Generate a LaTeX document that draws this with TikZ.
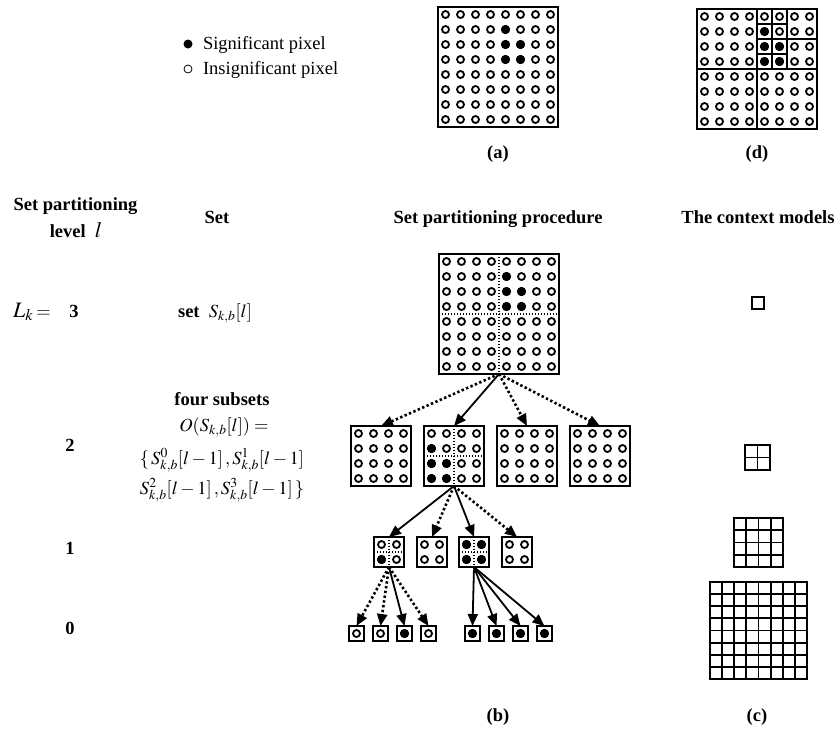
\documentclass[tikz,border=0pt]{standalone}
\usepackage{mathptmx}
\usepackage{fontspec}
\setmainfont{Liberation Serif}
\usetikzlibrary{arrows.meta}
\newcommand{\pixarr}[3]{%
  \foreach \ii in {1,...,#3}{\foreach \jj in {1,...,#3}{%
    \draw[pix] ({#1+15*\ii-7.5},{#2+15*\jj-7.5}) circle[radius=3.5pt];}}}
\newcommand{\pixsig}[3]{%
  \foreach \ii/\jj in {#3}{%
    \filldraw[pix,fill=black] ({#1+15*\ii-7.5},{#2+15*\jj-7.5}) circle[radius=3.6pt];}}
\begin{document}
\begin{tikzpicture}[x=1pt,y=-1pt,
  every node/.style={font=\fontsize{18.5}{22}\selectfont, inner sep=0pt, outer sep=0pt},
  lbl/.style={font=\fontsize{18.5}{22}\selectfont\bfseries, anchor=base},
  pix/.style={line width=1.8pt},
  pbox/.style={draw, line width=2pt, rectangle, minimum width=#1, minimum height=#1},
  divline/.style={line width=1.3pt, dash pattern=on 1.4pt off 1.6pt},
  solidarr/.style={line width=1.8pt, -{Triangle[length=12pt,width=10pt]}},
  dotarr/.style={line width=2.6pt, dash pattern=on 2.4pt off 2.4pt, -{Triangle[length=12pt,width=10pt]}},
  cgrid/.style={line width=1.8pt},
  thickdiv/.style={line width=2.2pt}
]
\useasboundingbox[fill=white] (0,0) rectangle (835,732);

% legend
\node[circle, fill=black, minimum size=9pt] (lg1) at (188,44) {};
\node[anchor=base west] (lgt1) at (203,49) {Significant pixel};
\node[circle, draw, line width=0.8pt, minimum size=8pt] (lg2) at (188,69) {};
\node[anchor=base west] (lgt2) at (203,74) {Insignificant pixel};

% (a)
\node[pbox=120pt] (A) at (498,67) {};
\pixarr{438}{7}{8}
\pixsig{438}{7}{5/2,5/3,6/3,5/4,6/4}
\node[lbl] (capa) at (498,158) {(a)};

% (d)
\node[pbox=120pt] (D) at (757,69) {};
\pixarr{697}{9}{8}
\pixsig{697}{9}{5/2,5/3,6/3,5/4,6/4}
\draw[thickdiv] (757,9) -- (757,129);
\draw[thickdiv] (697,69) -- (817,69);
\draw[thickdiv] (787,9) -- (787,69);
\draw[thickdiv] (757,39) -- (817,39);
\draw[thickdiv] (772,9) -- (772,69);
\draw[thickdiv] (757,24) -- (787,24);
\draw[thickdiv] (757,54) -- (787,54);
\node[lbl] (capd) at (757,158) {(d)};

% headings
\node[lbl] (h1) at (75.5,210) {Set partitioning};
\node[lbl] (h1b) at (76,237) {level\ \ {\fontsize{22}{24}\selectfont$l$}};
\node[lbl] (h2) at (217,223) {Set};
\node[lbl] (h3) at (498,223) {Set partitioning procedure};
\node[lbl] (h4) at (758,223) {The context models};

% level labels
\node[anchor=base] (Lk) at (32,317) {{\fontsize{22}{24}\selectfont$L_k$}\,$=$};
\node[lbl] (l3) at (74,317) {3};
\node[lbl] (l2) at (70,451) {2};
\node[lbl] (l1) at (70,554) {1};
\node[lbl] (l0) at (70,634) {0};

% set column
\node[anchor=base] (s3) at (215,317) {\textbf{set}\ \ $S_{k,b}[l]$};
\node[lbl] (fs) at (222,405) {four subsets};
\node[anchor=base] (os) at (224,431) {$O(S_{k,b}[l])=$};
\node[anchor=base] (os2) at (222,464) {$\{\,S^0_{k,b}[l-1]\,,S^1_{k,b}[l-1]$};
\node[anchor=base] (os3) at (222,494) {$S^2_{k,b}[l-1]\,,S^3_{k,b}[l-1]\,\}$};

% level 3 big box
\node[pbox=120pt] (B) at (499,314) {};
\pixarr{439}{254}{8}
\pixsig{439}{254}{5/2,5/3,6/3,5/4,6/4}
\draw[divline] (499,254) -- (499,374);
\draw[divline] (439,314) -- (559,314);

% level 2
\node[pbox=60pt] (Ca) at (381,456) {};
\node[pbox=60pt] (Cb) at (454,456) {};
\node[pbox=60pt] (Cc) at (527,456) {};
\node[pbox=60pt] (Cd) at (600,456) {};
\pixarr{351}{426}{4}
\pixarr{424}{426}{4}
\pixarr{497}{426}{4}
\pixarr{570}{426}{4}
\pixsig{424}{426}{1/2,1/3,2/3,1/4,2/4}
\draw[divline] (454,426) -- (454,486);
\draw[divline] (424,456) -- (484,456);

% level 1
\node[pbox=30pt] (Da) at (389,552) {};
\node[pbox=30pt] (Db) at (432,552) {};
\node[pbox=30pt] (Dc) at (474,552) {};
\node[pbox=30pt] (Dd) at (517,552) {};
\pixarr{374}{537}{2}
\pixarr{417}{537}{2}
\pixarr{459}{537}{2}
\pixarr{502}{537}{2}
\pixsig{374}{537}{1/2}
\pixsig{459}{537}{1/1,2/1,1/2,2/2}
\draw[divline] (389,537) -- (389,567);
\draw[divline] (374,552) -- (404,552);
\draw[divline] (474,537) -- (474,567);
\draw[divline] (459,552) -- (489,552);

% level 0
\foreach \nm/\xx in {Ea/356.5,Eb/380.5,Ec/404.5,Ed/428.5,Ee/472.5,Ef/496.5,Eg/520.5,Eh/544.5}{
  \node[pbox=15pt] (\nm) at (\xx,633.5) {};
  \draw[pix] (\xx,633.5) circle[radius=3.5pt];
}
\foreach \xx in {404.5,472.5,496.5,520.5,544.5}{
  \filldraw[pix,fill=black] (\xx,633.5) circle[radius=3.6pt];
}

% arrows
\draw[dotarr] (B.south) -- (Ca.north);
\draw[solidarr] (B.south) -- (Cb.north);
\draw[dotarr] (B.south) -- (Cc.north);
\draw[dotarr] (B.south) -- (Cd.north);
\draw[solidarr] (Cb.south) -- (Da.north);
\draw[dotarr] (Cb.south) -- (Db.north);
\draw[solidarr] (Cb.south) -- (Dc.north);
\draw[dotarr] (Cb.south) -- (Dd.north);
\draw[dotarr] (Da.south) -- (Ea.north);
\draw[dotarr] (Da.south) -- (Eb.north);
\draw[solidarr] (Da.south) -- (Ec.north);
\draw[dotarr] (Da.south) -- (Ed.north);
\draw[solidarr] (Dc.south) -- (Ee.north);
\draw[solidarr] (Dc.south) -- (Ef.north);
\draw[solidarr] (Dc.south) -- (Eg.north);
\draw[solidarr] (Dc.south) -- (Eh.north);

% context models
\node[draw, cgrid, minimum size=12.2pt] (M0) at (758,303) {};
\node[draw, cgrid, minimum size=24.4pt] (M1) at (757.5,457.5) {};
\draw[cgrid] (M1.north) -- (M1.south);
\draw[cgrid] (M1.west) -- (M1.east);
\node[draw, cgrid, minimum size=48.8pt] (M2) at (758.5,542.5) {};
\foreach \k in {1,2,3}{
  \draw[cgrid] ({734.1+12.2*\k},518.1) -- ({734.1+12.2*\k},566.9);
  \draw[cgrid] (734.1,{518.1+12.2*\k}) -- (782.9,{518.1+12.2*\k});
}
\node[draw, cgrid, minimum size=97.6pt] (M3) at (758.5,630.5) {};
\foreach \k in {1,...,7}{
  \draw[cgrid] ({709.7+12.2*\k},581.7) -- ({709.7+12.2*\k},679.3);
  \draw[cgrid] (709.7,{581.7+12.2*\k}) -- (807.3,{581.7+12.2*\k});
}

\node[lbl] (capb) at (498,721) {(b)};
\node[lbl] (capc) at (757,721) {(c)};
\end{tikzpicture}
\end{document}
